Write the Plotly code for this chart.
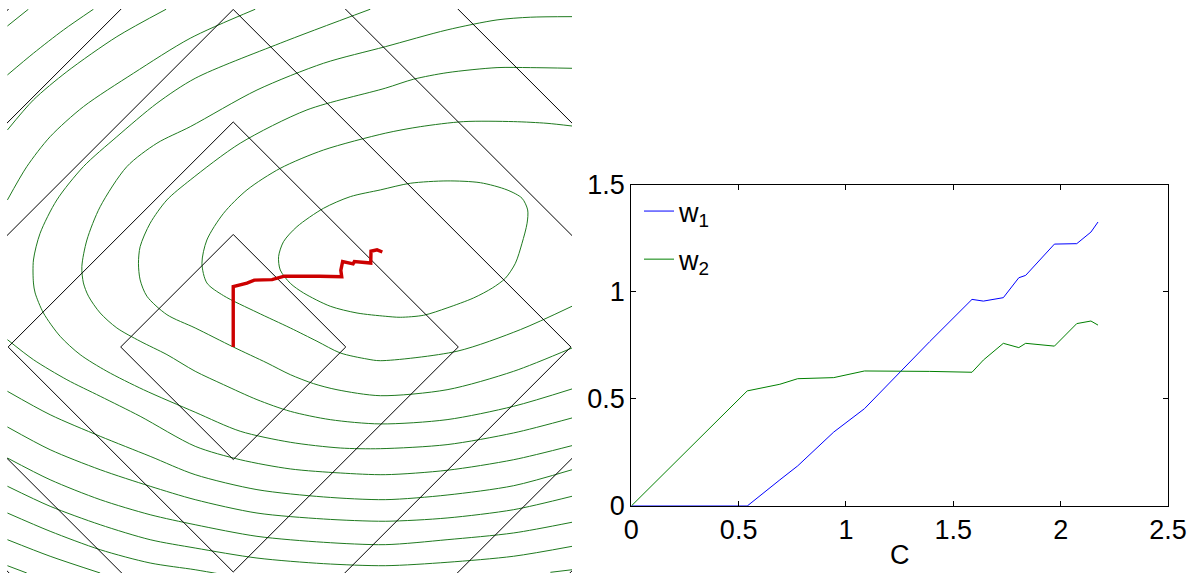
import plotly.graph_objects as go

# ---------------- Regularisation path data (shared by both panels) ----------------
C_values = [0.0, 0.54, 0.692, 0.775, 0.943, 1.086, 1.39, 1.587, 1.64, 1.733,
            1.805, 1.837, 1.971, 2.075, 2.141, 2.174]
w1_values = [0.0, 0.0, 0.122, 0.187, 0.345, 0.454, 0.767, 0.964, 0.956, 0.972,
             1.065, 1.076, 1.222, 1.224, 1.278, 1.325]
w2_values = [0.0, 0.537, 0.568, 0.594, 0.599, 0.630, 0.628, 0.624, 0.681, 0.759,
             0.739, 0.759, 0.746, 0.851, 0.863, 0.844]

# ---------------- L1-ball radii (black diamonds) ----------------
l1_radii = [1, 2, 3, 4, 5]

# ---------------- Loss contour lines (w1, w2) ----------------
c1_w1 = [1.307, 1.573, 1.900, 2.196, 2.433, 2.566, 2.616, 2.611, 2.566, 2.507, 2.418, 2.302, 2.136,
         1.900, 1.692, 1.484, 1.351, 1.100, 0.862, 0.625, 0.507, 0.418, 0.403, 0.447, 0.566, 0.803,
         1.040, 1.307]
c1_w2 = [1.396, 1.455, 1.476, 1.460, 1.396, 1.322, 1.218, 1.100, 0.922, 0.744, 0.611, 0.524, 0.436,
         0.347, 0.282, 0.264, 0.273, 0.302, 0.362, 0.480, 0.566, 0.684, 0.803, 0.936, 1.069, 1.233,
         1.336, 1.396]

c2_w1 = [3.01, 2.551, 1.988, 1.307, 1.188, 0.951, 0.744, 0.507, 0.211, -0.086, -0.234, -0.278,
         -0.234, -0.086, 0.122, 0.418, 0.803, 1.351, 1.662, 2.047, 2.492, 2.788, 3.01]
c2_w2 = [0.362, 0.154, -0.038, -0.122, -0.107, -0.053, 0.051, 0.169, 0.308, 0.456, 0.569, 0.744,
         0.951, 1.188, 1.396, 1.588, 1.751, 1.900, 1.958, 2.003, 2.003, 1.988, 1.964]

c3_w1 = [3.01, 2.492, 1.900, 1.307, 0.922, 0.714, 0.507, 0.300, 0.0, -0.338, -0.589, -0.767, -0.827,
         -0.842, -0.827, -0.738, -0.589, -0.382, 0.062, 0.655, 1.351, 1.603, 1.900, 2.344, 2.640, 3.01]
c3_w2 = [-0.009, -0.216, -0.380, -0.433, -0.380, -0.326, -0.246, -0.142, 0.0, 0.169, 0.287, 0.451,
         0.596, 0.744, 0.892, 1.100, 1.307, 1.484, 1.811, 2.107, 2.300, 2.380, 2.438, 2.483, 2.483, 2.477]

c4_w1 = [3.01, 2.492, 1.900, 1.307, 0.862, 0.507, 0.211, -0.086, -0.338, -0.589, -0.827, -1.034,
         -1.182, -1.286, -1.331, -1.345, -1.300, -1.182, -0.945, -0.678, -0.382, 0.211, 0.803, 1.351,
         1.900, 2.344, 2.640, 3.01]
c4_w2 = [-0.373, -0.527, -0.646, -0.684, -0.646, -0.572, -0.468, -0.335, -0.216, -0.068, 0.051, 0.169,
         0.302, 0.451, 0.569, 0.714, 0.951, 1.247, 1.603, 1.811, 1.958, 2.284, 2.522, 2.669, 2.818,
         2.907, 2.931, 2.936]

c5_w1 = [3.01, 2.492, 1.900, 1.307, 0.951, 0.507, 0.062, -0.338, -0.797, -1.123, -1.360, -1.538,
         -1.686, -1.760, -1.775, -1.775, -1.716, -1.567, -1.331, -1.034, -0.678, -0.338, 0.418, 1.218]
c5_w2 = [-0.631, -0.764, -0.868, -0.904, -0.898, -0.847, -0.749, -0.580, -0.380, -0.216, -0.068, 0.095,
         0.302, 0.480, 0.569, 0.773, 1.010, 1.307, 1.603, 1.869, 2.166, 2.388, 2.700, 3.002]

c6_low_w1 = [-2.006, -1.775, -1.478, -1.182, -0.827, -0.338, 0.062, 0.507, 0.951, 1.351, 1.900, 2.492, 3.01]
c6_low_w2 = [0.065, -0.113, -0.291, -0.438, -0.616, -0.883, -1.002, -1.084, -1.120, -1.135, -1.096,
             -1.002, -0.877]
c6_up_w1 = [-2.006, -1.834, -1.627, -1.331, -0.886, -0.382, 0.196]
c6_up_w2 = [1.307, 1.603, 1.869, 2.136, 2.433, 2.744, 3.002]

c7_low_w1 = [-2.006, -1.627, -1.182, -0.738, -0.338, 0.211, 0.803, 1.351, 1.900, 2.492, 3.01]
c7_low_w2 = [-0.394, -0.602, -0.794, -0.972, -1.135, -1.268, -1.333, -1.357, -1.316, -1.233, -1.091]
c7_up_w1 = [-2.006, -1.775, -1.478, -1.034, -0.596]
c7_up_w2 = [1.929, 2.196, 2.447, 2.758, 3.002]

c8_low_w1 = [-2.006, -1.627, -1.182, -0.738, -0.338, 0.211, 0.803, 1.351, 1.900, 2.492, 3.01]
c8_low_w2 = [-0.711, -0.913, -1.091, -1.238, -1.357, -1.476, -1.529, -1.549, -1.520, -1.446, -1.327]
c8_up_w1 = [-2.006, -1.775, -1.508, -1.242]
c8_up_w2 = [2.418, 2.611, 2.818, 3.002]

c9_low_w1 = [-2.006, -1.627, -1.182, -0.738, -0.338, 0.211, 0.803, 1.351, 1.900, 2.492, 3.01]
c9_low_w2 = [-0.987, -1.180, -1.357, -1.491, -1.580, -1.683, -1.736, -1.757, -1.713, -1.653, -1.558]
c9_up_w1 = [-2.006, -1.820]
c9_up_w2 = [2.853, 3.002]

c10_w1 = [-2.006, -1.627, -1.182, -0.738, -0.338, 0.211, 0.803, 1.351, 1.900, 2.492, 3.01]
c10_w2 = [-1.238, -1.416, -1.580, -1.713, -1.787, -1.876, -1.926, -1.944, -1.914, -1.860, -1.772]

c11_w1 = [-2.006, -1.627, -1.182, -0.738, -0.338, -0.086, None, 2.818, 3.01]
c11_w2 = [-1.476, -1.638, -1.802, -1.920, -1.980, -2.024, None, -2.003, -1.980]

c12_w1 = [-2.006, -1.627, -1.182]
c12_w2 = [-1.713, -1.860, -2.009]

c13_w1 = [-2.006, -1.834]
c13_w2 = [-1.944, -2.009]

contour_lines = [
    (c1_w1, c1_w2), (c2_w1, c2_w2), (c3_w1, c3_w2), (c4_w1, c4_w2), (c5_w1, c5_w2),
    (c6_low_w1, c6_low_w2), (c6_up_w1, c6_up_w2),
    (c7_low_w1, c7_low_w2), (c7_up_w1, c7_up_w2),
    (c8_low_w1, c8_low_w2), (c8_up_w1, c8_up_w2),
    (c9_low_w1, c9_low_w2), (c9_up_w1, c9_up_w2),
    (c10_w1, c10_w2), (c11_w1, c11_w2), (c12_w1, c12_w2), (c13_w1, c13_w2),
]

# ---------------- Styles ----------------
CONTOUR_COLOR = "#1f7a1f"
PATH_COLOR = "#cc0000"
W1_COLOR = "#0000ff"
W2_COLOR = "#008000"
FONT = "Liberation Sans, Arial, Helvetica, sans-serif"

W, H = 1200, 573

fig = go.Figure()

# Left panel: contours
for xs, ys in contour_lines:
    fig.add_trace(go.Scatter(x=xs, y=ys, mode="lines", xaxis="x", yaxis="y",
                             line=dict(color=CONTOUR_COLOR, width=1, shape="spline", smoothing=0.8),
                             showlegend=False, hoverinfo="skip", connectgaps=False))

# Left panel: L1 balls
for r in l1_radii:
    fig.add_trace(go.Scatter(x=[r, 0, -r, 0, r], y=[0, r, 0, -r, 0], mode="lines",
                             xaxis="x", yaxis="y", line=dict(color="black", width=1),
                             showlegend=False, hoverinfo="skip"))

# Left panel: regularisation path
fig.add_trace(go.Scatter(x=w1_values, y=w2_values, mode="lines", xaxis="x", yaxis="y",
                         line=dict(color=PATH_COLOR, width=3.4), showlegend=False))

# Right panel: coefficient paths
fig.add_trace(go.Scatter(x=C_values, y=w1_values, mode="lines", xaxis="x2", yaxis="y2",
                         name="w<sub>1</sub>", legendgroup="a",
                         line=dict(color=W1_COLOR, width=1)))
fig.add_trace(go.Scatter(x=C_values, y=w2_values, mode="lines", xaxis="x2", yaxis="y2",
                         name="w<sub>2</sub>", legendgroup="b",
                         line=dict(color=W2_COLOR, width=1)))

hidden = dict(showgrid=False, zeroline=False, showticklabels=False, ticks="", showline=False,
              automargin=False)

axis_common = dict(showgrid=False, zeroline=False, showline=True, linecolor="black", linewidth=1,
                   mirror="ticks", ticks="inside", ticklen=5, tickcolor="black", tickwidth=1,
                   automargin=False,
                   tickfont=dict(family=FONT, size=27, color="black"))

fig.update_layout(
    template="none",
    width=W, height=H,
    margin=dict(l=0, r=0, t=0, b=0, pad=0),
    paper_bgcolor="white", plot_bgcolor="white",
    xaxis=dict(domain=[7 / W, 572 / W], range=[-2.01, 3.01], **hidden),
    yaxis=dict(domain=[0, 1 - 9 / H], range=[-2.009, 3.004], **hidden),
    xaxis2=dict(domain=[631.3 / W, 1168 / W], range=[0, 2.5], dtick=0.5, anchor="y2",
                title=dict(text="C", font=dict(family=FONT, size=27, color="black"), standoff=0),
                **axis_common),
    yaxis2=dict(domain=[(H - 506) / H, (H - 184.5) / H], range=[0, 1.5], dtick=0.5, anchor="x2",
                **axis_common),
    legend=dict(x=639 / W, y=(H - 187) / H, xanchor="left", yanchor="top",
                bgcolor="rgba(0,0,0,0)", borderwidth=0,
                font=dict(family=FONT, size=27, color="black"), tracegroupgap=10),
    showlegend=True,
)

fig.write_html("out.html", config={"displayModeBar": False},
               post_script="document.body.style.margin='0';document.body.style.overflow='hidden';")
